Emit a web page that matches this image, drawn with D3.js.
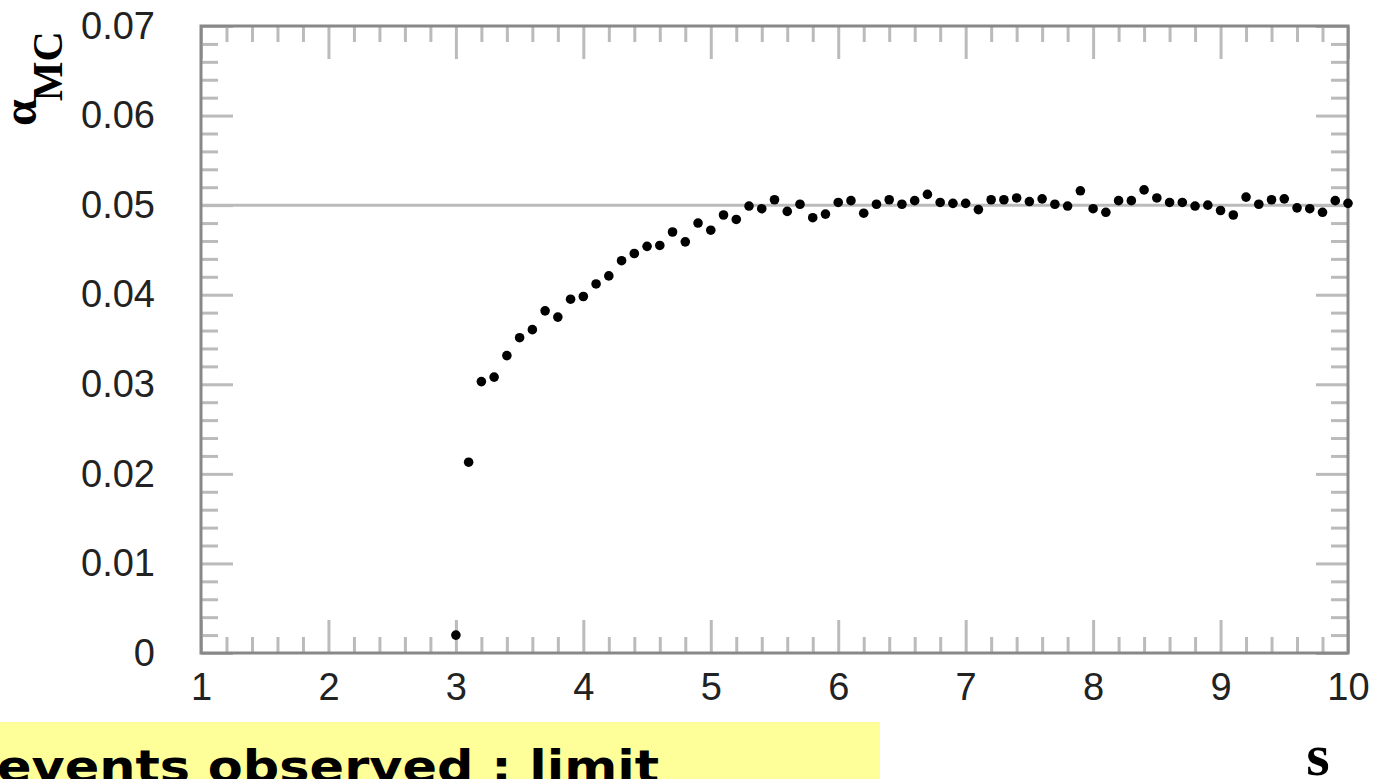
<!DOCTYPE html>
<html>
<head>
<meta charset="utf-8">
<script src="https://cdn.jsdelivr.net/npm/d3@7"></script>
<style>
  body { margin: 0; background: #fff; }
  svg { display: block; }
  .tick text { font-family: "Liberation Sans", Arial, sans-serif; font-size: 38px; fill: #222; }
</style>
</head>
<body>
<script>
// s values (x) and alpha_MC values (y)
var sValues = [3.0, 3.1, 3.2, 3.3, 3.4, 3.5, 3.6, 3.7, 3.8, 3.9,
               4.0, 4.1, 4.2, 4.3, 4.4, 4.5, 4.6, 4.7, 4.8, 4.9,
               5.0, 5.1, 5.2, 5.3, 5.4, 5.5, 5.6, 5.7, 5.8, 5.9,
               6.0, 6.1, 6.2, 6.3, 6.4, 6.5, 6.6, 6.7, 6.8, 6.9,
               7.0, 7.1, 7.2, 7.3, 7.4, 7.5, 7.6, 7.7, 7.8, 7.9,
               8.0, 8.1, 8.2, 8.3, 8.4, 8.5, 8.6, 8.7, 8.8, 8.9,
               9.0, 9.1, 9.2, 9.3, 9.4, 9.5, 9.6, 9.7, 9.8, 9.9, 10.0];
var alphaValues = [0.0020, 0.0213, 0.0303, 0.0308, 0.0332, 0.0352, 0.0361, 0.0382, 0.0375, 0.0395,
                   0.0398, 0.0412, 0.0421, 0.0438, 0.0446, 0.0454, 0.0455, 0.0470, 0.0459, 0.0480,
                   0.0472, 0.0489, 0.0484, 0.0499, 0.0496, 0.0506, 0.0493, 0.0501, 0.0486, 0.0490,
                   0.0503, 0.0505, 0.0491, 0.0501, 0.0506, 0.0501, 0.0505, 0.0512, 0.0503, 0.0502,
                   0.0502, 0.0495, 0.0506, 0.0506, 0.0508, 0.0504, 0.0507, 0.0501, 0.0499, 0.0516,
                   0.0496, 0.0492, 0.0505, 0.0505, 0.0517, 0.0508, 0.0503, 0.0503, 0.0499, 0.0500,
                   0.0494, 0.0489, 0.0509, 0.0501, 0.0506, 0.0507, 0.0497, 0.0496, 0.0492, 0.0505, 0.0502];

var xMajor = [1, 2, 3, 4, 5, 6, 7, 8, 9, 10];
var yMajor = [0, 0.01, 0.02, 0.03, 0.04, 0.05, 0.06, 0.07];
var yLabels = ["0", "0.01", "0.02", "0.03", "0.04", "0.05", "0.06", "0.07"];
var refLevel = 0.05;
var caption = "events observed : limit";

var w = 1373, h = 779;
var margin = {top: 26, right: 25, bottom: 126, left: 201};

var svg = d3.select("body").append("svg")
            .attr("width", w)
            .attr("height", h);

var xScale = d3.scaleLinear()
               .domain([1, 10])
               .range([margin.left, w - margin.right]);
var yScale = d3.scaleLinear()
               .domain([0, 0.07])
               .range([h - margin.bottom, margin.top]);

// minor ticks: 5 subdivisions between majors
var xMinor = [];
xMajor.slice(0, -1).forEach(function(m) {
  [0.2, 0.4, 0.6, 0.8].forEach(function(f) { xMinor.push(m + f); });
});
var yMinor = [];
yMajor.slice(0, -1).forEach(function(m) {
  [0.002, 0.004, 0.006, 0.008].forEach(function(f) { yMinor.push(m + f); });
});

function tickAxis(axis, values, size, tx, ty) {
  var g = svg.append("g")
     .attr("transform", "translate(" + tx + "," + ty + ")")
     .call(axis.tickValues(values).tickSize(size).tickFormat(""));
  g.select(".domain").remove();
  g.selectAll("line").attr("stroke", "#bbb").attr("stroke-width", 3);
}

var x0 = xScale.range()[0], x1 = xScale.range()[1];
var yB = yScale.range()[0], yT = yScale.range()[1];

// bottom and top ticks
tickAxis(d3.axisTop(xScale), xMajor, 33, 0, yB);
tickAxis(d3.axisTop(xScale), xMinor, 16, 0, yB);
tickAxis(d3.axisBottom(xScale), xMajor, 33, 0, yT);
tickAxis(d3.axisBottom(xScale), xMinor, 16, 0, yT);
// left and right ticks
tickAxis(d3.axisRight(yScale), yMajor, 32, x0, 0);
tickAxis(d3.axisRight(yScale), yMinor, 17, x0, 0);
tickAxis(d3.axisLeft(yScale), yMajor, 32, x1, 0);
tickAxis(d3.axisLeft(yScale), yMinor, 17, x1, 0);

// reference line at 0.05
svg.append("line")
   .attr("x1", x0).attr("x2", x1)
   .attr("y1", yScale(refLevel)).attr("y2", yScale(refLevel))
   .attr("stroke", "#bbb")
   .attr("stroke-width", 3);

// frame
svg.append("rect")
   .attr("x", x0).attr("y", yT)
   .attr("width", x1 - x0).attr("height", yB - yT)
   .attr("fill", "none")
   .attr("stroke", "#888")
   .attr("stroke-width", 3);

// tick labels
var xLab = svg.append("g")
   .attr("transform", "translate(0," + yB + ")")
   .call(d3.axisBottom(xScale).tickValues(xMajor).tickSize(0).tickPadding(20).tickFormat(d3.format("d")));
xLab.select(".domain").remove();

var yLab = svg.append("g")
   .attr("transform", "translate(" + x0 + ",0)")
   .call(d3.axisLeft(yScale).tickValues(yMajor).tickSize(0).tickPadding(46)
           .tickFormat(function(d, i) { return yLabels[i]; }));
yLab.select(".domain").remove();

// dots
svg.selectAll("circle.dot")
   .data(sValues)
   .enter().append("circle")
   .attr("class", "dot")
   .attr("cx", function(d) { return xScale(d); })
   .attr("cy", function(d, i) { return yScale(alphaValues[i]); })
   .attr("r", 4.8)
   .style("fill", "#000");

// y-axis title alpha_MC
var yt = svg.append("text")
   .attr("transform", "translate(36,126) rotate(-90)")
   .style("font-family", "'Liberation Serif', 'Times New Roman', serif")
   .style("font-weight", "bold")
   .style("fill", "#000");
yt.append("tspan").style("font-size", "48px").text("\u03B1");
yt.append("tspan").style("font-size", "42px").attr("dx", -2).attr("dy", 26).text("MC");

// x-axis title
svg.append("text")
   .attr("x", 1318).attr("y", 775)
   .attr("text-anchor", "middle")
   .style("font-family", "'Liberation Serif', 'Times New Roman', serif")
   .style("font-weight", "bold")
   .style("font-size", "60px")
   .style("fill", "#000")
   .text("s");

// caption band
svg.append("rect")
   .attr("x", 0).attr("y", 722)
   .attr("width", 880).attr("height", 60)
   .attr("fill", "#ffff99");
svg.append("text")
   .attr("x", -3).attr("y", 782)
   .attr("textLength", 662)
   .attr("lengthAdjust", "spacingAndGlyphs")
   .style("font-family", "'DejaVu Sans', Verdana, sans-serif")
   .style("font-weight", "bold")
   .style("font-size", "44px")
   .style("fill", "#000")
   .text(caption);
</script>
</body>
</html>
